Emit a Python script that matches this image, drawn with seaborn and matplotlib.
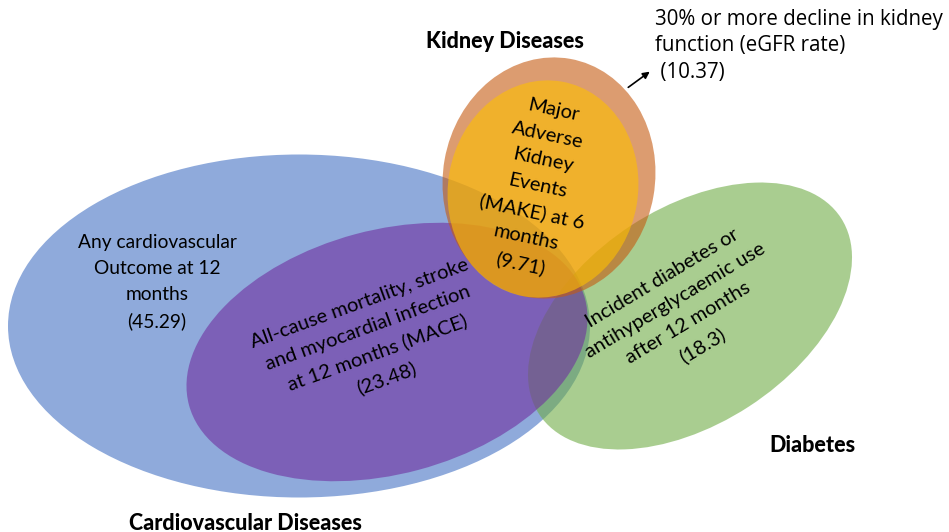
import matplotlib
matplotlib.use("Agg")
import matplotlib.pyplot as plt
import seaborn as sns
from matplotlib.patches import Ellipse

# outcome groups and their incidence values
groups = ["Cardiovascular Diseases", "Kidney Diseases", "Diabetes"]
outcomes = [
    "Any cardiovascular\nOutcome at 12\nmonths",
    "All-cause mortality, stroke\nand myocardial infection\nat 12 months (MACE)",
    "30% or more decline in kidney\nfunction (eGFR rate)\n",
    "Major\nAdverse\nKidney\nEvents\n(MAKE) at 6\nmonths",
    "Incident diabetes or\nantihyperglycaemic use\nafter 12 months",
]
values = [45.29, 23.48, 10.37, 9.71, 18.3]

sns.set_theme(style="white")
plt.rcParams["font.family"] = ["Lato", "DejaVu Sans"]

fig = plt.figure(figsize=(9.49, 5.32), dpi=100)
ax = fig.add_axes([0, 0, 1, 1])
ax.set_xlim(0, 949)
ax.set_ylim(532, 0)
ax.axis("off")

# ellipses in pixel space (y down): centre, width, height, angle, colour
shapes = [
    ((299, 326), 582, 343, 0, "#4472C4"),
    ((690, 316), 360, 216, -33, "#70AD47"),
    ((387, 352), 410, 244, -15, "#7030A0"),
    ((549, 178), 212, 242, 10, "#C55A11"),
    ((543, 189), 190, 218, 10, "#FFC000"),
]
for (c, w, h, ang, col) in shapes:
    ax.add_patch(Ellipse(c, w, h, angle=ang, facecolor=col, alpha=0.6, edgecolor="none"))

txt = dict(ha="center", va="center", color="black", linespacing=1.62)

ax.text(157, 282, f"{outcomes[0]}\n({values[0]})", fontsize=13.8, **txt)
ax.text(373, 341, f"{outcomes[1]}\n({values[1]})", rotation=20, rotation_mode="anchor",
        fontsize=14.5, **txt)
ax.text(655, 9, f"{outcomes[2]} ({values[2]})", ha="left", va="top", fontsize=14.8,
        family=["Open Sans", "DejaVu Sans"], linespacing=1.34, color="black")
ax.text(537, 187, f"{outcomes[3]}\n({values[3]})", rotation=-12, rotation_mode="anchor",
        fontsize=14.5, **txt)
ax.text(682, 312, f"{outcomes[4]}\n({values[4]})", rotation=31, rotation_mode="anchor",
        fontsize=14.5, **txt)

ax.annotate("", xy=(652, 70), xytext=(626, 89),
            arrowprops=dict(arrowstyle="-|>", color="black", lw=1.2, mutation_scale=10))

bold = dict(ha="center", va="center", fontweight="black", color="black")
ax.text(245, 523, groups[0], fontsize=15.5, **bold)
ax.text(505, 42, groups[1], fontsize=15.5, **bold)
ax.text(812, 445, groups[2], fontsize=15.5, **bold)

fig.savefig("out.png", dpi=100)
